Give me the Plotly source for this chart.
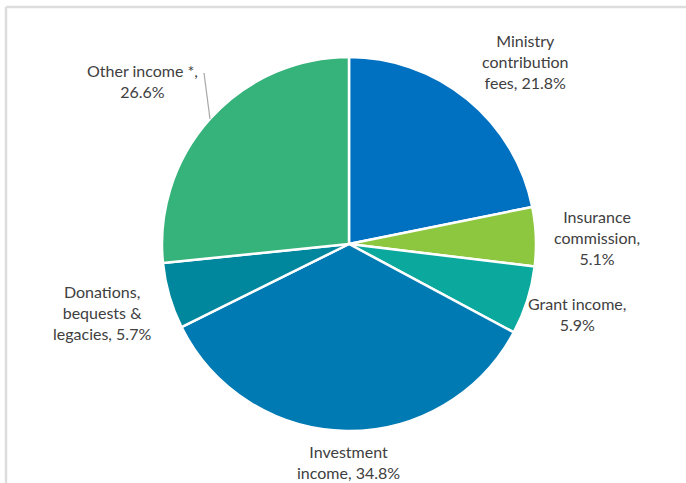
import plotly.graph_objects as go

categories = ["Ministry contribution fees", "Insurance commission", "Grant income",
              "Investment income", "Donations, bequests & legacies", "Other income *"]
values = [21.8, 5.1, 5.9, 34.8, 5.7, 26.6]
colors = ["#0070C0", "#8DC63F", "#0BA89E", "#007AB3", "#00879E", "#36B27B"]
label_text = ["Ministry<br>contribution<br>fees, 21.8%",
              "Insurance<br>commission,<br>5.1%",
              "Grant income,<br>5.9%",
              "Investment<br>income, 34.8%",
              "Donations,<br>bequests &<br>legacies, 5.7%",
              "Other income *,<br>26.6%"]

W, H = 686, 483
cx, cy, r = 349, 244, 187

fig = go.Figure(go.Pie(
    labels=categories, values=values, sort=False, direction="clockwise", rotation=0,
    marker=dict(colors=colors, line=dict(color="white", width=2.5)),
    textinfo="none", hoverinfo="label+percent", showlegend=False,
    domain=dict(x=[(cx - r) / W, (cx + r) / W], y=[(H - cy - r) / H, (H - cy + r) / H]),
))

# label positions (pixel centers)
pos = [(525, 61), (597, 238), (577, 314), (348, 462), (102, 312), (142, 81)]
for t, (x, y) in zip(label_text, pos):
    fig.add_annotation(x=x / W, y=1 - y / H, xref="paper", yref="paper", text=t,
                       showarrow=False, xanchor="center", yanchor="middle", align="center",
                       font=dict(family="Lato, sans-serif", size=16, color="#404040"))

def px(x, y):
    return x / W, 1 - y / H

# leader line for Other income
x0, y0 = px(204, 73)
x1, y1 = px(210, 119)
fig.add_shape(type="line", xref="paper", yref="paper", x0=x0, y0=y0, x1=x1, y1=y1,
              line=dict(color="#A6A6A6", width=1.2))

# frame
fx0, fy0 = px(6, 7)
fig.add_shape(type="line", xref="paper", yref="paper", x0=fx0, y0=fy0, x1=1, y1=fy0,
              line=dict(color="#DDDDDD", width=2.5))
fig.add_shape(type="line", xref="paper", yref="paper", x0=fx0, y0=fy0, x1=fx0, y1=0,
              line=dict(color="#DDDDDD", width=2.5))

fig.update_layout(width=W, height=H, margin=dict(l=0, r=0, t=0, b=0),
                  paper_bgcolor="white", plot_bgcolor="white")
fig.write_html("out.html", config={"displayModeBar": False},
               post_script="document.body.style.margin='0';document.body.style.padding='0';document.body.style.overflow='hidden';")
